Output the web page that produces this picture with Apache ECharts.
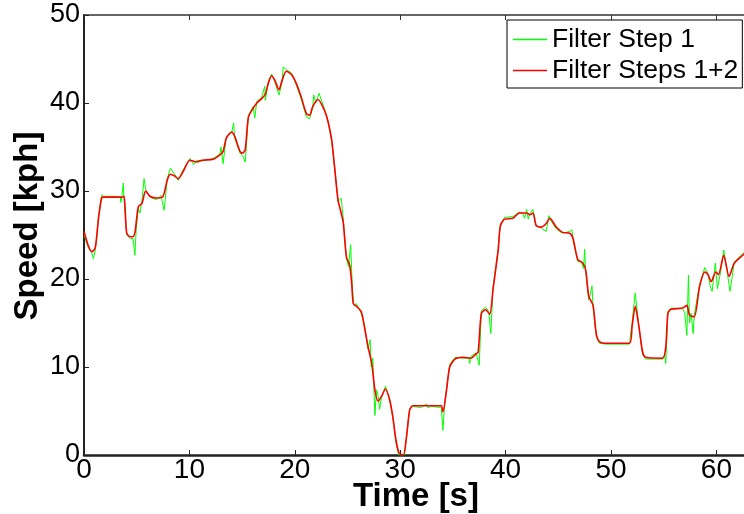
<!DOCTYPE html>
<html>
<head>
<meta charset="utf-8">
<script src="https://cdn.jsdelivr.net/npm/echarts@6/dist/echarts.min.js"></script>
<style>
  html, body { margin: 0; padding: 0; background: #fff; }
  #chart { width: 744px; height: 514px; }
</style>
</head>
<body>
<div id="chart"></div>
<script>
// speed trace after filter steps 1+2 (smooth red line)
const redTime = [0, 0.4, 0.73, 1.06, 1.36, 1.67, 1.9, 3.6, 3.8, 4.05, 4.4, 4.65, 4.85, 5.15, 5.5, 5.85, 6.26, 6.9, 7.5, 7.9,
  8.2, 8.6, 8.94, 9.4, 10.05, 10.7, 11.2, 12.26, 12.9, 13.2, 13.5, 14.0, 14.3, 14.8, 15.05, 15.3, 15.6, 16.05, 16.4, 16.85,
  17.2, 17.5, 17.8, 18.1, 18.5, 18.8, 19.2, 19.7, 20.15, 20.6, 21.1, 21.4, 21.7, 22.2, 22.8, 23.15, 23.5, 23.8, 24.1, 24.4,
  24.6, 24.9, 25.2, 25.4, 25.55, 25.85, 26.3, 26.6, 26.95, 27.3, 27.6, 27.9, 28.2, 28.6, 29.0, 29.3, 29.6, 29.9, 30.3, 30.6,
  30.9, 31.2, 32.0, 33.0, 33.9, 34.05, 34.4, 34.7, 35.2, 35.95, 36.7, 37.2, 37.4, 37.7, 38.1, 38.5, 38.8, 39.3, 39.5, 39.9,
  40.7, 41.3, 42.0, 42.3, 42.6, 42.9, 43.4, 43.85, 44.2, 44.8, 45.4, 46.1, 46.4, 46.85, 47.3, 47.6, 47.9, 48.3, 48.6, 48.9,
  49.5, 51.75, 52.0, 52.3, 52.65, 53.0, 53.3, 54.9, 55.2, 55.4, 55.7, 56.8, 57.2, 57.45, 57.9, 58.4, 58.9, 59.2, 59.5, 59.95,
  60.2, 60.7, 61.2, 61.7, 62.5, 62.8];
const redSpeed = [25.4, 23.8, 23.1, 23.5, 26.7, 29.2, 29.3, 29.3, 29.4, 25.2, 24.8, 24.8, 25.4, 28.2, 28.6, 30.0, 29.4, 29.2, 29.4, 31.25,
  31.9, 31.7, 31.4, 32.2, 33.5, 33.3, 33.5, 33.6, 34.1, 34.5, 36.0, 36.7, 36.2, 34.5, 34.3, 34.7, 38.4, 39.4, 40.0, 40.5,
  41.0, 42.3, 43.1, 42.6, 41.5, 42.6, 43.6, 43.2, 42.2, 40.7, 38.8, 38.6, 39.6, 40.4, 39.2, 37.9, 35.8, 32.4, 29.0, 27.5,
  26.4, 22.5, 21.6, 19.5, 17.2, 16.9, 16.3, 14.6, 12.3, 10.4, 7.4, 6.1, 6.6, 7.5, 6.25, 4.35, 1.7, 0.2, 0, 2.1,
  5.1, 5.6, 5.6, 5.6, 5.6, 4.9, 7.4, 10.0, 10.9, 11.1, 11.0, 11.5, 11.7, 16.1, 16.5, 16.0, 18.75, 23.3, 26.0, 26.8,
  26.9, 27.5, 27.5, 27.3, 27.5, 26.1, 25.9, 26.3, 26.9, 25.9, 25.3, 25.2, 24.6, 22.2, 21.85, 21.0, 18.0, 17.0, 13.8, 12.9,
  12.7, 12.7, 14.6, 16.9, 14.6, 11.7, 11.1, 11.0, 12.3, 16.1, 16.55, 16.7, 17.0, 15.9, 15.7, 19.1, 20.8, 20.5, 19.7, 20.8,
  20.5, 22.7, 20.3, 21.8, 22.7, 23.0];

// speed trace after filter step 1 only (noisy green line)
const greenTime = [0, 0.4, 0.73, 0.9, 1.06, 1.2, 1.36, 1.67, 1.9, 3.0, 3.45, 3.5, 3.6, 3.73, 3.8, 4.05, 4.4, 4.65, 4.83, 4.95,
  5.15, 5.3, 5.5, 5.7, 5.85, 6.26, 6.9, 7.3, 7.6, 7.9, 8.2, 8.6, 8.94, 9.4, 10.05, 10.4, 10.7, 11.2, 12.26, 12.9,
  13.0, 13.2, 13.5, 14.0, 14.2, 14.3, 14.8, 15.05, 15.3, 15.6, 16.05, 16.2, 16.4, 16.85, 17.15, 17.2, 17.5, 17.8, 18.1, 18.5,
  18.8, 18.9, 19.2, 19.7, 20.15, 20.6, 21.1, 21.4, 21.7, 21.8, 22.0, 22.3, 22.8, 23.15, 23.5, 23.8, 24.1, 24.4, 24.6, 24.9,
  25.1, 25.3, 25.45, 25.6, 25.85, 26.3, 26.6, 26.95, 27.15, 27.25, 27.4, 27.6, 27.75, 27.9, 28.05, 28.2, 28.6, 29.0, 29.3, 29.6,
  29.85, 30.4, 30.6, 30.9, 31.2, 32.0, 32.5, 32.6, 33.0, 33.9, 34.05, 34.2, 34.4, 34.7, 35.2, 35.95, 36.5, 36.6, 36.7, 37.2,
  37.5, 37.7, 38.1, 38.4, 38.6, 38.8, 39.3, 39.5, 39.9, 40.7, 41.3, 41.6, 41.8, 42.0, 42.15, 42.3, 42.6, 42.9, 43.4, 43.85,
  44.1, 44.2, 44.8, 45.4, 46.1, 46.3, 46.4, 46.85, 47.2, 47.4, 47.5, 47.6, 47.9, 48.2, 48.3, 48.6, 48.9, 49.5, 51.75, 52.0,
  52.3, 52.65, 53.0, 53.3, 54.9, 55.1, 55.2, 55.4, 55.7, 56.8, 57.0, 57.2, 57.35, 57.45, 57.6, 57.8, 57.9, 58.4, 58.9, 59.2,
  59.45, 59.6, 59.9, 60.1, 60.4, 60.7, 61.0, 61.3, 61.7, 62.5, 62.8];
const greenSpeed = [25.0, 23.6, 23.0, 22.3, 23.3, 24.5, 27.0, 29.5, 29.4, 29.4, 29.3, 28.7, 29.5, 30.9, 29.0, 25.0, 24.6, 24.6, 22.7, 25.6,
  28.0, 27.5, 28.9, 31.4, 30.2, 29.3, 29.0, 29.5, 27.8, 31.4, 32.6, 31.9, 31.2, 32.4, 33.7, 33.0, 33.5, 33.4, 33.7, 34.2,
  35.0, 33.1, 36.2, 36.6, 37.7, 36.0, 34.3, 34.0, 33.3, 38.6, 39.6, 38.3, 40.2, 40.6, 41.9, 40.3, 42.5, 43.3, 42.4, 40.9,
  42.4, 44.1, 43.8, 43.4, 42.0, 40.5, 38.4, 38.2, 39.4, 40.9, 40.0, 41.1, 39.4, 38.0, 35.6, 32.6, 28.8, 29.2, 26.8, 22.3,
  21.4, 23.9, 19.3, 17.0, 17.2, 16.1, 14.9, 12.0, 13.1, 10.0, 11.0, 4.5, 7.4, 6.8, 5.2, 6.4, 7.8, 6.4, 4.2, 1.4,
  0, 0, 2.0, 5.3, 5.5, 5.4, 5.8, 5.4, 5.5, 5.4, 2.8, 5.5, 7.6, 10.3, 11.1, 11.0, 11.0, 10.4, 11.2, 11.6,
  10.2, 16.4, 16.8, 16.3, 13.8, 19.0, 23.5, 26.2, 27.0, 27.1, 27.6, 27.5, 26.9, 27.9, 26.8, 27.4, 27.9, 26.0, 25.8, 25.4,
  27.2, 26.8, 25.7, 25.2, 25.4, 25.6, 24.4, 22.0, 21.9, 21.2, 23.4, 20.8, 17.6, 19.2, 16.8, 13.5, 12.7, 12.6, 12.6, 15.0,
  18.4, 14.6, 11.4, 10.9, 10.9, 11.4, 10.4, 16.3, 16.7, 16.6, 16.2, 13.6, 20.45, 15.0, 16.1, 13.8, 15.9, 19.4, 21.3, 20.6,
  19.0, 18.6, 21.8, 18.9, 20.8, 23.3, 21.0, 18.6, 21.9, 22.9, 23.0];

const yTicks = [0, 10, 20, 30, 40, 50];
const xTicks = [0, 10, 20, 30, 40, 50, 60];

const font = 'Liberation Sans, Arial, sans-serif';
const zip = (a, b) => a.map((t, i) => [t, b[i]]);

const chart = echarts.init(document.getElementById('chart'));
chart.setOption({
  animation: false,
  backgroundColor: '#fff',
  grid: { left: 84, top: 15, right: -4, bottom: 59, containLabel: false, outerBoundsMode: 'none' },
  legend: {
    orient: 'vertical',
    left: 507,
    top: 20,
    padding: [6, 4, 4, 6],
    backgroundColor: '#fff',
    borderColor: '#000',
    borderWidth: 1,
    borderRadius: 0,
    itemWidth: 34,
    itemHeight: 1.5,
    itemGap: 4,
    icon: 'rect',
    textStyle: { fontFamily: font, fontSize: 26.5, lineHeight: 22, color: '#000' },
    data: ['Filter Step 1', 'Filter Steps 1+2']
  },
  xAxis: [{
    type: 'value',
    min: 0,
    max: 63,
    interval: 10,
    name: 'Time [s]',
    nameLocation: 'middle',
    nameGap: 25,
    nameMoveOverlap: false,
    nameTextStyle: { fontFamily: font, fontSize: 33, fontWeight: 'bold', color: '#000' },
    axisLine: { onZero: false, lineStyle: { color: '#222', width: 2.5 } },
    axisTick: { inside: true, length: 5, lineStyle: { color: '#222' } },
    axisLabel: {
      margin: 1, fontFamily: font, fontSize: 28, color: '#000',
      formatter: v => xTicks.includes(v) ? String(v) : ''
    },
    splitLine: { show: false }
  }, {
    type: 'value',
    position: 'top',
    min: 0,
    max: 63,
    interval: 10,
    axisLine: { onZero: false, lineStyle: { color: '#333', width: 1.5 } },
    axisTick: { inside: true, length: 5, lineStyle: { color: '#333' } },
    axisLabel: { show: false },
    splitLine: { show: false }
  }],
  yAxis: {
    type: 'value',
    min: 0,
    max: 50,
    interval: 10,
    name: 'Speed [kph]',
    nameLocation: 'middle',
    nameGap: 40,
    nameMoveOverlap: false,
    nameTextStyle: { fontFamily: font, fontSize: 33, fontWeight: 'bold', color: '#000', padding: [0, 0, 0, 18] },
    axisLine: { show: true, onZero: false, lineStyle: { color: '#222', width: 2 } },
    axisTick: { show: true, inside: true, length: 5, lineStyle: { color: '#222' } },
    axisLabel: {
      margin: 4, fontFamily: font, fontSize: 27, color: '#000',
      formatter: v => yTicks.includes(v) ? String(v) : ''
    },
    splitLine: { show: false }
  },
  series: [{
    name: 'Filter Step 1',
    type: 'line',
    data: zip(greenTime, greenSpeed),
    showSymbol: false,
    color: '#00ff00',
    lineStyle: { color: '#00ff00', width: 1 },
    z: 2
  }, {
    name: 'Filter Steps 1+2',
    type: 'line',
    data: zip(redTime, redSpeed),
    showSymbol: false,
    smooth: 0.25,
    color: '#ff0000',
    lineStyle: { color: '#ff0000', width: 1.6 },
    z: 3
  }]
});
</script>
</body>
</html>
